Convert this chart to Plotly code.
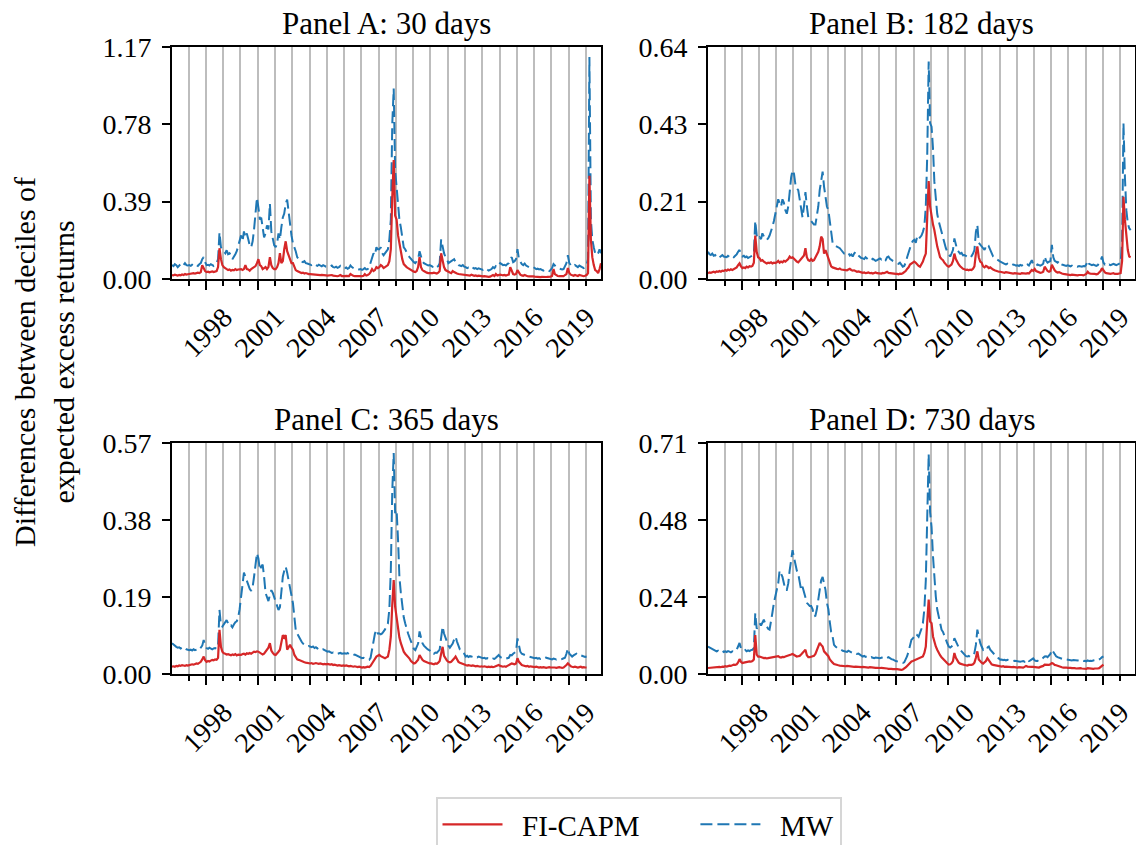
import numpy as np
import pandas as pd
import plotly.graph_objects as go

FONT = "Liberation Serif"
RED = "#d62728"
BLUE = "#1f77b4"

PANEL_TITLES = ["Panel A: 30 days", "Panel B: 182 days", "Panel C: 365 days", "Panel D: 730 days"]
SERIES_NAMES = ["FI-CAPM", "MW"]
Y_TITLE = "Differences between deciles of<br>expected excess returns"

X_TICK_YEARS = [1998, 2001, 2004, 2007, 2010, 2013, 2016, 2019]
GRID_YEARS = list(range(1997, 2021))
X_START = "1996-01-15"
X_END = "2020-11-15"

Y_MAX = [1.17, 0.64, 0.57, 0.714]
Y_TICK_TEXT = [
    ["0.00", "0.39", "0.78", "1.17"],
    ["0.00", "0.21", "0.43", "0.64"],
    ["0.00", "0.19", "0.38", "0.57"],
    ["0.00", "0.24", "0.48", "0.71"],
]

# ---------------- Panel A (monthly, Jan 1996 - Nov 2020) ----------------
mw_a = [
    0.07, 0.065, 0.075, 0.07, 0.06, 0.07, 0.075, 0.065, 0.07, 0.08, 0.07, 0.068,
    0.07, 0.066, 0.072, 0.068, 0.075, 0.07, 0.066, 0.074, 0.08, 0.1, 0.11, 0.085,
    0.07, 0.072, 0.068, 0.075, 0.07, 0.066, 0.072, 0.08, 0.1, 0.235, 0.16, 0.145,
    0.14, 0.13, 0.145, 0.125, 0.13, 0.12, 0.1, 0.11, 0.125, 0.14, 0.17, 0.2,
    0.22, 0.19, 0.24, 0.21, 0.23, 0.2, 0.17, 0.16, 0.19, 0.25, 0.33, 0.41,
    0.36, 0.3, 0.31, 0.25, 0.21, 0.23, 0.27, 0.25, 0.38, 0.24, 0.2, 0.17,
    0.16, 0.18, 0.23, 0.2, 0.26, 0.31, 0.33, 0.38, 0.40, 0.33, 0.26, 0.22,
    0.18, 0.16, 0.14, 0.11, 0.1, 0.09, 0.088, 0.085, 0.09, 0.08, 0.078, 0.075,
    0.072, 0.07, 0.075, 0.068, 0.07, 0.066, 0.072, 0.068, 0.064, 0.07, 0.066, 0.062,
    0.063, 0.06, 0.064, 0.068, 0.06, 0.058, 0.062, 0.056, 0.06, 0.066, 0.058, 0.055,
    0.055, 0.058, 0.052, 0.056, 0.068, 0.06, 0.055, 0.05, 0.052, 0.05, 0.048, 0.05,
    0.046, 0.05, 0.055, 0.048, 0.05, 0.06, 0.08, 0.11, 0.13, 0.12, 0.16, 0.15,
    0.15, 0.16, 0.13, 0.12, 0.13, 0.14, 0.15, 0.2, 0.3, 0.78, 0.96, 0.55,
    0.45, 0.38, 0.3, 0.26, 0.2, 0.16, 0.15, 0.13, 0.12, 0.11, 0.1, 0.09,
    0.085, 0.08, 0.09, 0.1, 0.14, 0.11, 0.09, 0.08, 0.075, 0.07, 0.068, 0.07,
    0.065, 0.062, 0.07, 0.066, 0.06, 0.065, 0.08, 0.2, 0.16, 0.13, 0.11, 0.1,
    0.08, 0.085, 0.09, 0.095, 0.1, 0.085, 0.075, 0.07, 0.068, 0.065, 0.07, 0.062,
    0.06, 0.055, 0.058, 0.054, 0.062, 0.056, 0.052, 0.055, 0.05, 0.054, 0.05, 0.048,
    0.046, 0.05, 0.044, 0.048, 0.042, 0.046, 0.05, 0.06, 0.055, 0.065, 0.06, 0.07,
    0.08, 0.075, 0.07, 0.072, 0.068, 0.075, 0.08, 0.1, 0.11, 0.085, 0.09, 0.1,
    0.15, 0.1, 0.085, 0.075, 0.07, 0.078, 0.068, 0.065, 0.06, 0.062, 0.058, 0.06,
    0.055, 0.05, 0.052, 0.048, 0.05, 0.045, 0.042, 0.046, 0.04, 0.042, 0.04, 0.045,
    0.055, 0.075, 0.065, 0.06, 0.055, 0.052, 0.05, 0.048, 0.05, 0.065, 0.08, 0.12,
    0.08, 0.07, 0.065, 0.062, 0.07, 0.065, 0.06, 0.068, 0.062, 0.058, 0.055, 0.06,
    0.07, 0.1, 1.12, 0.3, 0.2, 0.16, 0.13, 0.12, 0.13, 0.15, 0.13,
]
fi_a = [
    0.02, 0.018, 0.022, 0.02, 0.017, 0.021, 0.019, 0.023, 0.02, 0.025, 0.022, 0.024,
    0.025, 0.028, 0.026, 0.03, 0.027, 0.029, 0.032, 0.03, 0.035, 0.07, 0.05, 0.04,
    0.035, 0.037, 0.034, 0.036, 0.038, 0.035, 0.037, 0.04, 0.06, 0.155, 0.1, 0.07,
    0.06, 0.055, 0.05, 0.045, 0.048, 0.042, 0.046, 0.044, 0.05, 0.045, 0.048, 0.05,
    0.05, 0.046, 0.05, 0.07, 0.05, 0.048, 0.042, 0.05, 0.055, 0.06, 0.065, 0.08,
    0.1, 0.07, 0.065, 0.05, 0.055, 0.06, 0.05, 0.06, 0.11, 0.07, 0.055, 0.05,
    0.05, 0.06, 0.08, 0.13, 0.08, 0.09, 0.15, 0.19, 0.14, 0.12, 0.1, 0.08,
    0.08, 0.06, 0.045, 0.04, 0.037, 0.035, 0.03, 0.032, 0.028, 0.03, 0.026, 0.025,
    0.025, 0.024, 0.026, 0.022, 0.024, 0.02, 0.022, 0.02, 0.021, 0.019, 0.02, 0.018,
    0.017, 0.018, 0.016, 0.02, 0.017, 0.015, 0.016, 0.014, 0.016, 0.02, 0.015, 0.014,
    0.015, 0.016, 0.014, 0.015, 0.025, 0.018, 0.016, 0.014, 0.015, 0.013, 0.014, 0.015,
    0.014, 0.016, 0.025, 0.018, 0.02, 0.025, 0.035, 0.05, 0.04, 0.045, 0.06, 0.055,
    0.06, 0.07, 0.065, 0.055, 0.06, 0.065, 0.07, 0.09, 0.15, 0.41, 0.6, 0.32,
    0.3, 0.22, 0.18, 0.13, 0.1, 0.075, 0.065, 0.06, 0.055, 0.05, 0.045, 0.04,
    0.037, 0.035, 0.04, 0.06, 0.11, 0.06, 0.045, 0.04, 0.035, 0.032, 0.03, 0.03,
    0.028, 0.03, 0.032, 0.03, 0.028, 0.032, 0.04, 0.13, 0.09, 0.06, 0.045, 0.04,
    0.035, 0.033, 0.03, 0.04, 0.035, 0.03, 0.028, 0.025, 0.024, 0.022, 0.024, 0.02,
    0.02, 0.018, 0.02, 0.017, 0.022, 0.018, 0.016, 0.018, 0.015, 0.017, 0.015, 0.014,
    0.013, 0.014, 0.012, 0.013, 0.011, 0.012, 0.014, 0.02, 0.015, 0.025, 0.018, 0.02,
    0.022, 0.02, 0.018, 0.02, 0.017, 0.02, 0.022, 0.06, 0.04, 0.025, 0.022, 0.025,
    0.045, 0.03, 0.022, 0.018, 0.016, 0.02, 0.015, 0.014, 0.013, 0.014, 0.012, 0.013,
    0.012, 0.011, 0.013, 0.012, 0.01, 0.011, 0.01, 0.012, 0.01, 0.011, 0.01, 0.012,
    0.015, 0.05, 0.025, 0.018, 0.015, 0.014, 0.013, 0.012, 0.014, 0.02, 0.025, 0.055,
    0.03, 0.022, 0.018, 0.016, 0.02, 0.018, 0.015, 0.02, 0.017, 0.015, 0.014, 0.016,
    0.02, 0.03, 0.52, 0.2, 0.11, 0.07, 0.045, 0.04, 0.03, 0.05, 0.08,
]

# ---------------- Panel B (monthly, Jan 1996 - Aug 2020) ----------------
mw_b = [
    0.075, 0.068, 0.066, 0.07, 0.064, 0.066, 0.062, 0.065, 0.06, 0.063, 0.066, 0.062,
    0.062, 0.06, 0.064, 0.06, 0.058, 0.062, 0.06, 0.064, 0.068, 0.075, 0.08, 0.068,
    0.062, 0.064, 0.06, 0.062, 0.058, 0.06, 0.062, 0.065, 0.07, 0.16, 0.12, 0.11,
    0.115, 0.11, 0.126, 0.115, 0.11, 0.108, 0.112, 0.12, 0.13, 0.144, 0.16, 0.18,
    0.19, 0.22, 0.21, 0.2, 0.22, 0.21, 0.19, 0.18, 0.2, 0.24, 0.28, 0.30,
    0.29, 0.26, 0.25, 0.245, 0.22, 0.2, 0.17, 0.2, 0.24, 0.2, 0.17, 0.165,
    0.16, 0.155, 0.15, 0.15, 0.17, 0.2, 0.245, 0.27, 0.296, 0.255, 0.22, 0.2,
    0.19, 0.16, 0.13, 0.1, 0.094, 0.092, 0.09, 0.088, 0.085, 0.08, 0.075, 0.07,
    0.07, 0.068, 0.072, 0.065, 0.068, 0.062, 0.07, 0.075, 0.068, 0.065, 0.06, 0.058,
    0.057, 0.055, 0.06, 0.056, 0.053, 0.055, 0.052, 0.056, 0.054, 0.05, 0.052, 0.055,
    0.057, 0.054, 0.058, 0.055, 0.052, 0.06, 0.062, 0.056, 0.052, 0.05, 0.048, 0.046,
    0.043, 0.042, 0.045, 0.038, 0.034, 0.036, 0.045, 0.06, 0.075, 0.09, 0.098, 0.105,
    0.108, 0.1, 0.117, 0.11, 0.115, 0.12, 0.13, 0.145, 0.2, 0.34, 0.6, 0.43,
    0.42, 0.36, 0.27, 0.22, 0.18, 0.16, 0.144, 0.13, 0.117, 0.1, 0.085, 0.075,
    0.068, 0.062, 0.07, 0.08, 0.112, 0.09, 0.08, 0.075, 0.07, 0.072, 0.065, 0.066,
    0.064, 0.062, 0.06, 0.065, 0.063, 0.07, 0.08, 0.13, 0.149, 0.1, 0.095, 0.09,
    0.085, 0.08, 0.09, 0.085, 0.09, 0.08, 0.07, 0.062, 0.058, 0.055, 0.052, 0.05,
    0.048, 0.046, 0.045, 0.042, 0.04, 0.042, 0.039, 0.04, 0.038, 0.04, 0.039, 0.037,
    0.038, 0.036, 0.039, 0.037, 0.04, 0.036, 0.038, 0.04, 0.037, 0.045, 0.052, 0.04,
    0.038, 0.036, 0.04, 0.038, 0.037, 0.039, 0.042, 0.062, 0.05, 0.045, 0.048, 0.05,
    0.094, 0.06, 0.05, 0.046, 0.045, 0.05, 0.042, 0.04, 0.038, 0.037, 0.036, 0.038,
    0.036, 0.035, 0.037, 0.034, 0.036, 0.035, 0.034, 0.036, 0.035, 0.034, 0.036, 0.035,
    0.04, 0.05, 0.042, 0.04, 0.038, 0.04, 0.037, 0.036, 0.038, 0.045, 0.05, 0.062,
    0.045, 0.04, 0.042, 0.038, 0.04, 0.038, 0.04, 0.042, 0.04, 0.038, 0.04, 0.042,
    0.045, 0.1, 0.43, 0.28, 0.19, 0.154, 0.14, 0.135,
]
fi_b = [
    0.016, 0.018, 0.017, 0.019, 0.02, 0.018, 0.021, 0.02, 0.022, 0.02, 0.023, 0.022,
    0.025, 0.023, 0.026, 0.024, 0.027, 0.025, 0.028, 0.03, 0.032, 0.038, 0.043, 0.035,
    0.03, 0.032, 0.03, 0.034, 0.032, 0.035, 0.034, 0.036, 0.045, 0.12, 0.075, 0.06,
    0.057, 0.05, 0.052, 0.048, 0.046, 0.043, 0.045, 0.044, 0.046, 0.043, 0.045, 0.044,
    0.046, 0.05, 0.045, 0.048, 0.046, 0.05, 0.048, 0.052, 0.055, 0.062, 0.058, 0.06,
    0.055, 0.05, 0.048, 0.046, 0.05, 0.055, 0.06, 0.065, 0.085, 0.06, 0.052, 0.05,
    0.055, 0.05, 0.052, 0.06, 0.065, 0.075, 0.09, 0.117, 0.11, 0.07, 0.08, 0.07,
    0.06, 0.045, 0.035, 0.032, 0.03, 0.03, 0.028, 0.027, 0.029, 0.026, 0.025, 0.024,
    0.025, 0.024, 0.026, 0.028, 0.025, 0.023, 0.024, 0.022, 0.02, 0.021, 0.019, 0.018,
    0.017, 0.018, 0.016, 0.017, 0.018, 0.016, 0.017, 0.015, 0.016, 0.018, 0.016, 0.015,
    0.016, 0.015, 0.017, 0.016, 0.018, 0.02, 0.017, 0.016, 0.015, 0.014, 0.015, 0.014,
    0.014, 0.013, 0.015, 0.014, 0.016, 0.018, 0.022, 0.028, 0.032, 0.04, 0.043, 0.045,
    0.048, 0.045, 0.04, 0.036, 0.034, 0.04, 0.048, 0.06, 0.07, 0.17, 0.27, 0.2,
    0.17, 0.15, 0.135, 0.11, 0.09, 0.075, 0.06, 0.055, 0.052, 0.045, 0.04, 0.036,
    0.034, 0.036, 0.04, 0.05, 0.07, 0.055, 0.045, 0.04, 0.035, 0.03, 0.028, 0.027,
    0.025, 0.026, 0.024, 0.026, 0.025, 0.028, 0.035, 0.07, 0.09, 0.06, 0.048, 0.045,
    0.035, 0.032, 0.036, 0.034, 0.03, 0.032, 0.028, 0.026, 0.024, 0.022, 0.021, 0.02,
    0.02, 0.019, 0.018, 0.017, 0.019, 0.018, 0.016, 0.017, 0.016, 0.015, 0.016, 0.015,
    0.016, 0.015, 0.014, 0.016, 0.015, 0.014, 0.015, 0.016, 0.015, 0.02, 0.025, 0.022,
    0.028, 0.022, 0.02, 0.018, 0.017, 0.018, 0.02, 0.034, 0.028, 0.022, 0.02, 0.022,
    0.039, 0.03, 0.024, 0.02, 0.018, 0.019, 0.016, 0.015, 0.014, 0.013, 0.014, 0.013,
    0.012, 0.011, 0.012, 0.011, 0.012, 0.011, 0.01, 0.011, 0.012, 0.011, 0.01, 0.011,
    0.014, 0.02, 0.016, 0.015, 0.014, 0.013, 0.014, 0.013, 0.014, 0.018, 0.022, 0.03,
    0.022, 0.018, 0.016, 0.015, 0.016, 0.014, 0.015, 0.016, 0.014, 0.013, 0.014, 0.015,
    0.016, 0.05, 0.227, 0.163, 0.117, 0.08, 0.062, 0.06,
]

# ---------------- Panel C (monthly, Jan 1996 - Jan 2020) ----------------
mw_c = [
    0.076, 0.072, 0.07, 0.067, 0.065, 0.066, 0.063, 0.065, 0.062, 0.064, 0.061, 0.06,
    0.059, 0.06, 0.058, 0.061, 0.059, 0.06, 0.062, 0.06, 0.064, 0.07, 0.084, 0.07,
    0.064, 0.062, 0.065, 0.063, 0.061, 0.063, 0.064, 0.062, 0.07, 0.158, 0.12, 0.117,
    0.122, 0.128, 0.133, 0.125, 0.118, 0.12, 0.115, 0.122, 0.128, 0.13, 0.14, 0.16,
    0.19, 0.22, 0.25, 0.24, 0.23, 0.22, 0.21, 0.205, 0.215, 0.24, 0.273, 0.298,
    0.285, 0.257, 0.265, 0.27, 0.24, 0.2, 0.19, 0.18, 0.195, 0.207, 0.2, 0.19,
    0.183, 0.17, 0.158, 0.165, 0.2, 0.24, 0.255, 0.265, 0.25, 0.232, 0.21, 0.19,
    0.175, 0.14, 0.109, 0.1, 0.092, 0.088, 0.08, 0.075, 0.072, 0.07, 0.068, 0.069,
    0.067, 0.066, 0.068, 0.064, 0.066, 0.063, 0.065, 0.062, 0.06, 0.061, 0.058, 0.057,
    0.055, 0.056, 0.054, 0.052, 0.053, 0.051, 0.052, 0.05, 0.051, 0.052, 0.05, 0.051,
    0.051, 0.05, 0.052, 0.049, 0.05, 0.048, 0.047, 0.048, 0.046, 0.045, 0.043, 0.042,
    0.039, 0.04, 0.038, 0.037, 0.036, 0.035, 0.04, 0.06, 0.085, 0.1, 0.109, 0.1,
    0.1, 0.098, 0.1, 0.105, 0.11, 0.12, 0.125, 0.16, 0.257, 0.45, 0.545, 0.397,
    0.405, 0.33, 0.24, 0.2, 0.166, 0.14, 0.125, 0.11, 0.1, 0.09, 0.08, 0.07,
    0.062, 0.059, 0.065, 0.075, 0.105, 0.09, 0.076, 0.07, 0.065, 0.063, 0.06, 0.058,
    0.051, 0.052, 0.05, 0.053, 0.052, 0.055, 0.06, 0.09, 0.117, 0.1, 0.088, 0.08,
    0.07, 0.065, 0.07, 0.075, 0.085, 0.092, 0.08, 0.068, 0.06, 0.058, 0.055, 0.05,
    0.043, 0.045, 0.042, 0.044, 0.043, 0.042, 0.044, 0.042, 0.041, 0.043, 0.041, 0.04,
    0.039, 0.04, 0.038, 0.039, 0.037, 0.038, 0.036, 0.038, 0.037, 0.04, 0.044, 0.047,
    0.042, 0.039, 0.038, 0.037, 0.038, 0.039, 0.04, 0.047, 0.046, 0.05, 0.052, 0.055,
    0.088, 0.065, 0.055, 0.05, 0.048, 0.047, 0.045, 0.044, 0.043, 0.042, 0.041, 0.04,
    0.039, 0.04, 0.038, 0.039, 0.037, 0.038, 0.04, 0.042, 0.04, 0.039, 0.038, 0.037,
    0.036, 0.038, 0.037, 0.036, 0.038, 0.037, 0.036, 0.037, 0.038, 0.04, 0.05, 0.063,
    0.05, 0.045, 0.043, 0.046, 0.048, 0.05, 0.047, 0.045, 0.046, 0.044, 0.043, 0.042,
    0.043,
]
fi_c = [
    0.018, 0.019, 0.018, 0.02, 0.019, 0.021, 0.02, 0.022, 0.021, 0.02, 0.022, 0.021,
    0.022, 0.023, 0.024, 0.023, 0.025, 0.026, 0.025, 0.027, 0.03, 0.036, 0.043, 0.034,
    0.03, 0.032, 0.031, 0.033, 0.035, 0.034, 0.036, 0.035, 0.04, 0.109, 0.067, 0.055,
    0.051, 0.05, 0.048, 0.049, 0.047, 0.046, 0.048, 0.047, 0.049, 0.046, 0.048, 0.047,
    0.047, 0.049, 0.05, 0.048, 0.051, 0.05, 0.052, 0.05, 0.053, 0.055, 0.054, 0.056,
    0.055, 0.052, 0.05, 0.048, 0.05, 0.055, 0.06, 0.065, 0.076, 0.058, 0.052, 0.048,
    0.047, 0.05, 0.055, 0.06, 0.075, 0.096, 0.09, 0.096, 0.06, 0.065, 0.072, 0.065,
    0.06, 0.047, 0.04, 0.036, 0.035, 0.033, 0.031, 0.03, 0.029, 0.028, 0.027, 0.026,
    0.026, 0.027, 0.025, 0.026, 0.027, 0.026, 0.025, 0.026, 0.025, 0.024, 0.025, 0.024,
    0.025, 0.024, 0.023, 0.024, 0.022, 0.023, 0.022, 0.021, 0.022, 0.021, 0.02, 0.021,
    0.02, 0.021, 0.02, 0.019, 0.02, 0.019, 0.018, 0.019, 0.018, 0.017, 0.018, 0.017,
    0.016, 0.017, 0.016, 0.017, 0.018, 0.017, 0.02, 0.026, 0.032, 0.038, 0.043, 0.045,
    0.047, 0.044, 0.042, 0.04, 0.039, 0.041, 0.043, 0.06, 0.092, 0.17, 0.232, 0.166,
    0.142, 0.109, 0.09, 0.076, 0.065, 0.055, 0.05, 0.046, 0.043, 0.038, 0.032, 0.028,
    0.026, 0.027, 0.03, 0.035, 0.047, 0.04, 0.035, 0.032, 0.03, 0.028, 0.027, 0.026,
    0.026, 0.025, 0.024, 0.026, 0.025, 0.028, 0.032, 0.05, 0.067, 0.045, 0.038, 0.033,
    0.03, 0.029, 0.03, 0.033, 0.038, 0.043, 0.035, 0.03, 0.028, 0.026, 0.025, 0.024,
    0.022, 0.021, 0.022, 0.021, 0.02, 0.021, 0.02, 0.019, 0.02, 0.019, 0.018, 0.019,
    0.018, 0.019, 0.018, 0.017, 0.018, 0.017, 0.018, 0.017, 0.018, 0.019, 0.02, 0.022,
    0.02, 0.019, 0.018, 0.019, 0.018, 0.02, 0.022, 0.025, 0.026, 0.025, 0.024, 0.026,
    0.039, 0.03, 0.025, 0.022, 0.021, 0.02, 0.019, 0.02, 0.018, 0.019, 0.018, 0.017,
    0.017, 0.018, 0.017, 0.016, 0.017, 0.016, 0.017, 0.016, 0.015, 0.016, 0.017, 0.016,
    0.016, 0.017, 0.016, 0.015, 0.016, 0.017, 0.016, 0.015, 0.016, 0.018, 0.022, 0.026,
    0.022, 0.019, 0.018, 0.017, 0.018, 0.017, 0.016, 0.017, 0.018, 0.016, 0.017, 0.016,
    0.016,
]

# ---------------- Panel D (monthly, Jan 1996 - Jan 2019) ----------------
mw_d = [
    0.085, 0.082, 0.08, 0.078, 0.076, 0.072, 0.07, 0.072, 0.068, 0.07, 0.072, 0.068,
    0.07, 0.068, 0.071, 0.069, 0.067, 0.07, 0.068, 0.072, 0.075, 0.085, 0.096, 0.08,
    0.075, 0.072, 0.074, 0.07, 0.073, 0.071, 0.074, 0.075, 0.08, 0.188, 0.14, 0.15,
    0.157, 0.15, 0.16, 0.168, 0.155, 0.145, 0.14, 0.137, 0.16, 0.19, 0.22, 0.24,
    0.25, 0.28, 0.32, 0.31, 0.3, 0.28, 0.26, 0.26, 0.28, 0.32, 0.353, 0.383,
    0.36, 0.332, 0.32, 0.31, 0.29, 0.26, 0.27, 0.25, 0.235, 0.22, 0.215, 0.21,
    0.21, 0.2, 0.178, 0.18, 0.2, 0.23, 0.27, 0.29, 0.30, 0.28, 0.26, 0.22,
    0.2, 0.16, 0.13, 0.116, 0.09, 0.085, 0.08, 0.078, 0.075, 0.075, 0.072, 0.07,
    0.07, 0.068, 0.072, 0.069, 0.066, 0.065, 0.067, 0.064, 0.062, 0.063, 0.06, 0.058,
    0.054, 0.056, 0.053, 0.055, 0.052, 0.05, 0.052, 0.05, 0.049, 0.051, 0.05, 0.049,
    0.049, 0.05, 0.052, 0.054, 0.053, 0.05, 0.052, 0.048, 0.046, 0.045, 0.042, 0.04,
    0.039, 0.038, 0.036, 0.035, 0.034, 0.036, 0.045, 0.055, 0.07, 0.085, 0.106, 0.11,
    0.116, 0.112, 0.12, 0.115, 0.125, 0.14, 0.157, 0.2, 0.29, 0.5, 0.68, 0.5,
    0.455, 0.363, 0.3, 0.24, 0.2, 0.178, 0.16, 0.137, 0.13, 0.116, 0.105, 0.095,
    0.085, 0.082, 0.085, 0.09, 0.111, 0.1, 0.09, 0.082, 0.075, 0.07, 0.065, 0.063,
    0.055, 0.054, 0.056, 0.053, 0.055, 0.058, 0.065, 0.09, 0.137, 0.11, 0.096, 0.085,
    0.075, 0.08, 0.085, 0.082, 0.085, 0.075, 0.07, 0.062, 0.058, 0.055, 0.05, 0.048,
    0.044, 0.045, 0.043, 0.044, 0.042, 0.044, 0.043, 0.041, 0.042, 0.04, 0.041, 0.04,
    0.039, 0.04, 0.038, 0.039, 0.04, 0.038, 0.045, 0.043, 0.04, 0.042, 0.045, 0.048,
    0.042, 0.04, 0.041, 0.04, 0.042, 0.045, 0.05, 0.054, 0.055, 0.052, 0.058, 0.062,
    0.075, 0.068, 0.058, 0.055, 0.052, 0.05, 0.048, 0.046, 0.045, 0.044, 0.045, 0.044,
    0.043, 0.044, 0.042, 0.043, 0.042, 0.041, 0.042, 0.043, 0.041, 0.042, 0.04, 0.041,
    0.039, 0.042, 0.04, 0.041, 0.04, 0.042, 0.041, 0.04, 0.042, 0.044, 0.048, 0.052,
    0.054,
]
fi_d = [
    0.0185, 0.019, 0.02, 0.019, 0.02, 0.021, 0.02, 0.021, 0.022, 0.021, 0.023, 0.022,
    0.024, 0.023, 0.025, 0.026, 0.025, 0.027, 0.029, 0.028, 0.03, 0.036, 0.046, 0.038,
    0.034, 0.035, 0.036, 0.037, 0.038, 0.039, 0.038, 0.04, 0.045, 0.12, 0.06, 0.054,
    0.054, 0.052, 0.05, 0.049, 0.05, 0.048, 0.049, 0.05, 0.051, 0.05, 0.052, 0.054,
    0.054, 0.055, 0.052, 0.051, 0.053, 0.052, 0.054, 0.055, 0.056, 0.058, 0.06, 0.062,
    0.06, 0.056, 0.054, 0.055, 0.056, 0.06, 0.065, 0.068, 0.075, 0.058, 0.052, 0.052,
    0.053, 0.054, 0.056, 0.062, 0.075, 0.085, 0.096, 0.09, 0.085, 0.07, 0.065, 0.06,
    0.055, 0.045, 0.039, 0.035, 0.031, 0.029, 0.028, 0.027, 0.026, 0.025, 0.024, 0.025,
    0.024, 0.025, 0.024, 0.023, 0.024, 0.023, 0.022, 0.023, 0.022, 0.021, 0.022, 0.021,
    0.022, 0.021, 0.022, 0.021, 0.02, 0.021, 0.02, 0.019, 0.02, 0.019, 0.019, 0.018,
    0.0185, 0.019, 0.018, 0.017, 0.018, 0.017, 0.016, 0.017, 0.016, 0.015, 0.016, 0.015,
    0.015, 0.014, 0.013, 0.013, 0.014, 0.016, 0.02, 0.025, 0.03, 0.034, 0.039, 0.04,
    0.042, 0.044, 0.045, 0.046, 0.048, 0.05, 0.054, 0.065, 0.085, 0.16, 0.23, 0.162,
    0.157, 0.116, 0.1, 0.085, 0.075, 0.065, 0.058, 0.052, 0.048, 0.044, 0.038, 0.033,
    0.029, 0.03, 0.033, 0.04, 0.065, 0.05, 0.04, 0.035, 0.032, 0.03, 0.029, 0.028,
    0.027, 0.026, 0.028, 0.027, 0.028, 0.03, 0.035, 0.05, 0.07, 0.045, 0.038, 0.035,
    0.032, 0.036, 0.04, 0.049, 0.042, 0.035, 0.03, 0.028, 0.027, 0.026, 0.025, 0.024,
    0.024, 0.023, 0.024, 0.022, 0.023, 0.022, 0.021, 0.022, 0.021, 0.022, 0.021, 0.02,
    0.02, 0.021, 0.02, 0.019, 0.02, 0.022, 0.025, 0.023, 0.022, 0.021, 0.022, 0.022,
    0.021, 0.02, 0.021, 0.02, 0.022, 0.023, 0.025, 0.029, 0.028, 0.027, 0.028, 0.03,
    0.034, 0.032, 0.028, 0.027, 0.025, 0.024, 0.022, 0.021, 0.02, 0.021, 0.02, 0.019,
    0.02, 0.019, 0.018, 0.019, 0.018, 0.017, 0.018, 0.017, 0.018, 0.017, 0.016, 0.017,
    0.016, 0.018, 0.017, 0.016, 0.017, 0.016, 0.017, 0.016, 0.017, 0.018, 0.022, 0.026,
    0.029,
]

MW_SERIES = [mw_a, mw_b, mw_c, mw_d]
FI_SERIES = [fi_a, fi_b, fi_c, fi_d]

# ---------------- layout geometry (pixels of the 1136x845 page) ----------------
W, H = 1136, 845
PX_X = [(172, 601), (708, 1135), (172, 601), (708, 1135)]
PX_Y = [(47, 279), (47, 279), (443, 674), (443, 674)]
NBSP = "\u00a0"
LEGEND_LABELS = [NBSP * 2 + SERIES_NAMES[0] + NBSP * 7, NBSP * 2 + SERIES_NAMES[1]]


def month_dates(n):
    return pd.date_range("1996-01-01", periods=n, freq="MS") + pd.Timedelta(days=14)


fig = go.Figure()

for i in range(4):
    sfx = "" if i == 0 else str(i + 1)
    xs_mw = month_dates(len(MW_SERIES[i]))
    xs_fi = month_dates(len(FI_SERIES[i]))
    fig.add_trace(go.Scatter(
        x=xs_mw, y=MW_SERIES[i], mode="lines", name=LEGEND_LABELS[1],
        line=dict(color=BLUE, width=2, dash="12px,5px"),
        xaxis="x" + sfx, yaxis="y" + sfx, showlegend=(i == 0), legendrank=2,
    ))
    fig.add_trace(go.Scatter(
        x=xs_fi, y=FI_SERIES[i], mode="lines", name=LEGEND_LABELS[0],
        line=dict(color=RED, width=2.2),
        xaxis="x" + sfx, yaxis="y" + sfx, showlegend=(i == 0), legendrank=1,
    ))

tick_font = dict(family=FONT, size=28, color="black")
GRID_COLOR = "#bdbdbd"
layout = dict(
    width=W, height=H, autosize=False,
    margin=dict(l=0, r=0, t=0, b=0, autoexpand=False),
    paper_bgcolor="white", plot_bgcolor="white",
    font=dict(family=FONT, size=28, color="black"),
    legend=dict(
        orientation="h", x=638.5 / W, xanchor="center", y=1 - 797 / H, yanchor="top",
        bordercolor="#d6d6d6", borderwidth=2, bgcolor="white",
        font=dict(family=FONT, size=29, color="black"),
        itemwidth=60, traceorder="normal",
    ),
    annotations=[],
)

for i in range(4):
    sfx = "" if i == 0 else str(i + 1)
    x0, x1 = PX_X[i]
    y0, y1 = PX_Y[i]
    xdom = [x0 / W, x1 / W]
    ydom = [1 - y1 / H, 1 - y0 / H]
    layout["xaxis" + sfx] = dict(
        type="date", range=[X_START, X_END], domain=xdom, anchor="y" + sfx,
        showline=True, mirror=True, linecolor="black", linewidth=1.8,
        ticks="outside", ticklen=9, tickwidth=1.8, tickcolor="black",
        tickmode="array",
        tickvals=[f"{y}-01-01" for y in X_TICK_YEARS],
        ticktext=[str(y) for y in X_TICK_YEARS],
        tickangle=-45, tickfont=tick_font, ticklabelshift=18,
        showgrid=True, gridcolor=GRID_COLOR, gridwidth=2,
        minor=dict(
            tickmode="array", tickvals=[f"{y}-01-01" for y in GRID_YEARS],
            ticks="outside", ticklen=5, tickwidth=1.8, tickcolor="black",
            showgrid=True, gridcolor=GRID_COLOR, gridwidth=2,
        ),
        zeroline=False,
    )
    ymax = Y_MAX[i]
    layout["yaxis" + sfx] = dict(
        range=[0, ymax], domain=ydom, anchor="x" + sfx,
        showline=True, mirror=True, linecolor="black", linewidth=1.8,
        ticks="outside", ticklen=8, tickwidth=1.8, tickcolor="black",
        tickmode="array", tickvals=list(np.linspace(0, ymax, 4)),
        ticktext=Y_TICK_TEXT[i], tickfont=tick_font, ticklabelstandoff=5,
        showgrid=False, zeroline=False,
    )
    layout["annotations"].append(dict(
        text=PANEL_TITLES[i], xref="paper", yref="paper",
        x=(xdom[0] + xdom[1]) / 2, y=ydom[1], xanchor="center", yanchor="bottom",
        yshift=4, showarrow=False, font=dict(family=FONT, size=31, color="black"),
    ))

layout["annotations"].append(dict(
    text=Y_TITLE, xref="paper", yref="paper", x=44 / W, y=1 - 362 / H,
    xanchor="center", yanchor="middle", textangle=-90, showarrow=False,
    font=dict(family=FONT, size=30, color="black"),
))

fig.update_layout(layout)
fig.write_html("out.html")
